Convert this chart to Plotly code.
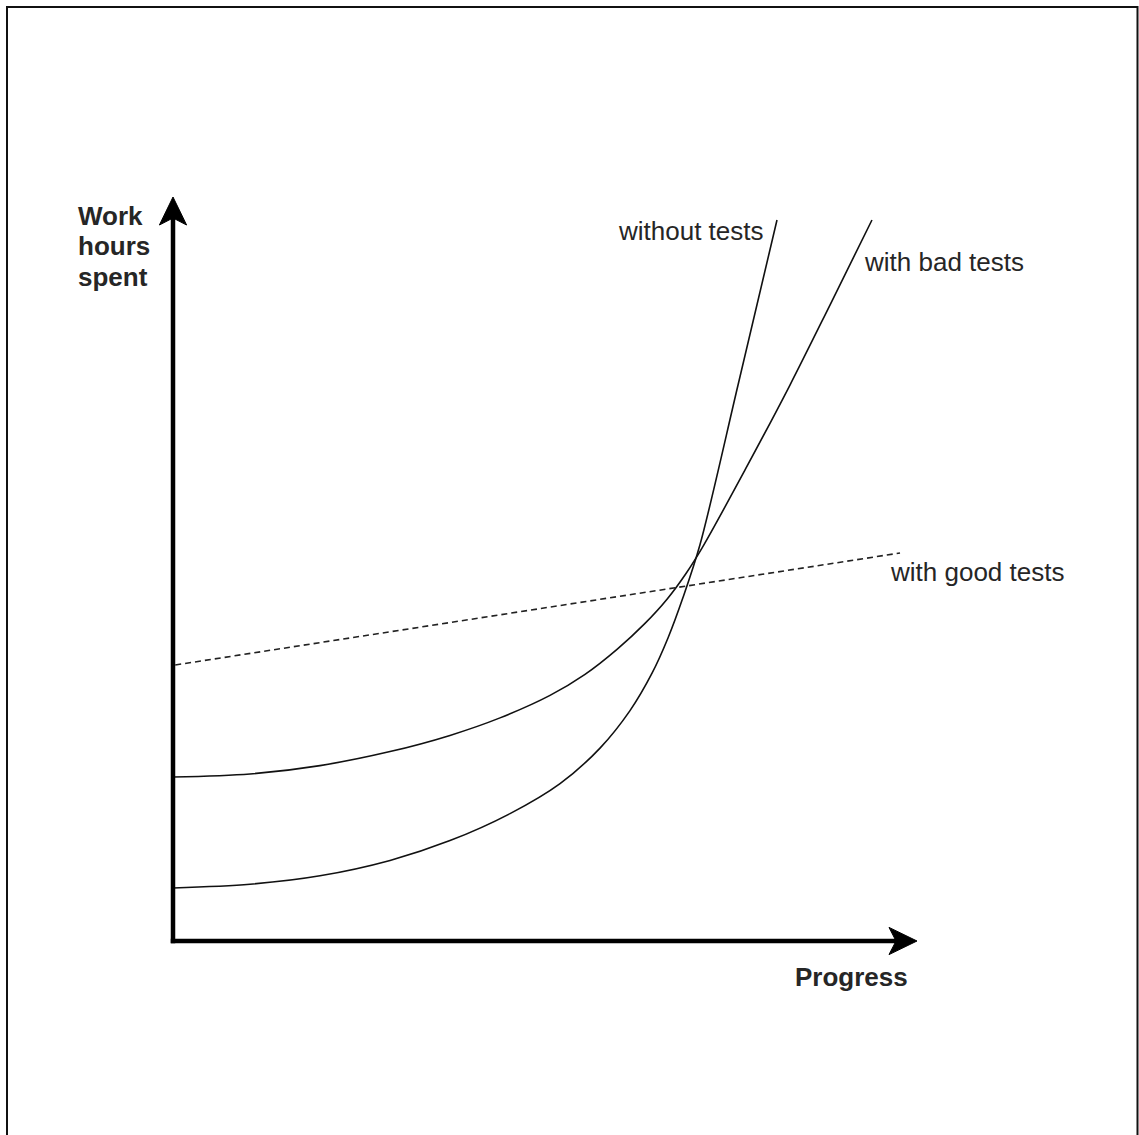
import plotly.graph_objects as go

# ---- data (arbitrary units: progress 0-100, work hours 0-100) ----
progress_without = [0, 10.38, 19.81, 29.25, 37.33, 45.42, 52.16, 57.55, 61.59, 64.56, 66.71, 68.73, 71.02, 76.15, 81.40]
hours_without    = [7.14, 7.65, 8.79, 10.86, 13.53, 17.17, 21.21, 26.00, 31.05, 36.09, 40.84, 46.29, 53.40, 74.93, 97.17]

progress_bad = [0, 10.38, 19.81, 29.25, 37.33, 44.07, 50.81, 55.53, 59.84, 63.61, 66.58, 69.14, 71.43, 77.09, 83.15, 88.54, 94.20]
hours_bad    = [22.10, 22.51, 23.64, 25.53, 27.71, 30.07, 33.10, 35.93, 39.30, 42.80, 46.06, 49.53, 53.19, 63.48, 74.93, 85.71, 97.17]

progress_good = [0.3, 97.98]
hours_good    = [37.20, 52.29]

labels = ["without tests", "with bad tests", "with good tests"]
label_x = [69.81, 103.9, 108.36]
label_y = [95.69, 91.51, 49.73]

axis_len = 100.27          # length of each axis arrow (to tip)
x_title = "Progress"
x_title_pos = (91.44, -4.85)
y_title_lines = ["Work", "hours", "spent"]
y_title_x = -13.07
y_title_line_y = [97.71, 93.67, 89.49]

# ---- layout helpers ----
W, H = 1139, 1135
SCALE = 7.42               # px per unit
ORIGIN_PX = (173, 941)
x_range = [-ORIGIN_PX[0] / SCALE, (W - ORIGIN_PX[0]) / SCALE]
y_range = [-(H - ORIGIN_PX[1]) / SCALE, ORIGIN_PX[1] / SCALE]

FONT = "Liberation Sans, Arial, Helvetica, sans-serif"
FSIZE = 26
LINE_COLOR = "#111111"
TEXT_COLOR = "#262626"

fig = go.Figure()

fig.add_trace(go.Scatter(x=progress_without, y=hours_without, mode="lines",
                         line=dict(color=LINE_COLOR, width=1.6, shape="spline", smoothing=0.9),
                         hoverinfo="skip", name=labels[0]))
fig.add_trace(go.Scatter(x=progress_bad, y=hours_bad, mode="lines",
                         line=dict(color=LINE_COLOR, width=1.6, shape="spline", smoothing=0.9),
                         hoverinfo="skip", name=labels[1]))
fig.add_trace(go.Scatter(x=progress_good, y=hours_good, mode="lines",
                         line=dict(color="#222222", width=1.6, dash="6px,4px"),
                         hoverinfo="skip", name=labels[2]))

# axes arrows (thick lines with notched arrowheads)
head_len = 28 / SCALE
head_half = 13.6 / SCALE
notch = 7 / SCALE
shaft_w = 4.5

shapes = [
    dict(type="line", xref="x", yref="y", x0=0, y0=-shaft_w / 2 / SCALE, x1=0, y1=axis_len - head_len + notch,
         line=dict(color="#000000", width=shaft_w)),
    dict(type="line", xref="x", yref="y", x0=-shaft_w / 2 / SCALE, y0=0, x1=axis_len - head_len + notch, y1=0,
         line=dict(color="#000000", width=shaft_w)),
    dict(type="path", xref="x", yref="y",
         path=(f"M 0 {axis_len} L {head_half} {axis_len - head_len} "
               f"L 0 {axis_len - head_len + notch} L {-head_half} {axis_len - head_len} Z"),
         fillcolor="#000000", line=dict(color="#000000", width=1)),
    dict(type="path", xref="x", yref="y",
         path=(f"M {axis_len} 0 L {axis_len - head_len} {head_half} "
               f"L {axis_len - head_len + notch} 0 L {axis_len - head_len} {-head_half} Z"),
         fillcolor="#000000", line=dict(color="#000000", width=1)),
    dict(type="rect", xref="paper", yref="paper",
         x0=7 / W, y0=-0.01, x1=1137.5 / W, y1=1 - 7 / H,
         line=dict(color="#111111", width=2), fillcolor="rgba(0,0,0,0)"),
]

annotations = []
for t, x, y in zip(labels, label_x, label_y):
    annotations.append(dict(x=x, y=y, xref="x", yref="y", text=t, showarrow=False,
                            xanchor="center", yanchor="middle",
                            font=dict(family=FONT, size=FSIZE, color=TEXT_COLOR)))
annotations.append(dict(x=x_title_pos[0], y=x_title_pos[1], xref="x", yref="y", text=f"<b>{x_title}</b>",
                        showarrow=False, xanchor="center", yanchor="middle",
                        font=dict(family=FONT, size=FSIZE, color=TEXT_COLOR)))
for t, y in zip(y_title_lines, y_title_line_y):
    annotations.append(dict(x=y_title_x, y=y, xref="x", yref="y", text=f"<b>{t}</b>", showarrow=False,
                            xanchor="left", yanchor="middle", align="left",
                            font=dict(family=FONT, size=FSIZE, color=TEXT_COLOR)))

fig.update_layout(
    width=W, height=H,
    margin=dict(l=0, r=0, t=0, b=0),
    paper_bgcolor="white", plot_bgcolor="white",
    showlegend=False,
    xaxis=dict(range=x_range, visible=False, fixedrange=True),
    yaxis=dict(range=y_range, visible=False, fixedrange=True),
    shapes=shapes,
    annotations=annotations,
)

fig.write_html("out.html", config={"displayModeBar": False},
               post_script="document.body.style.margin='0';document.body.style.overflow='hidden';")
